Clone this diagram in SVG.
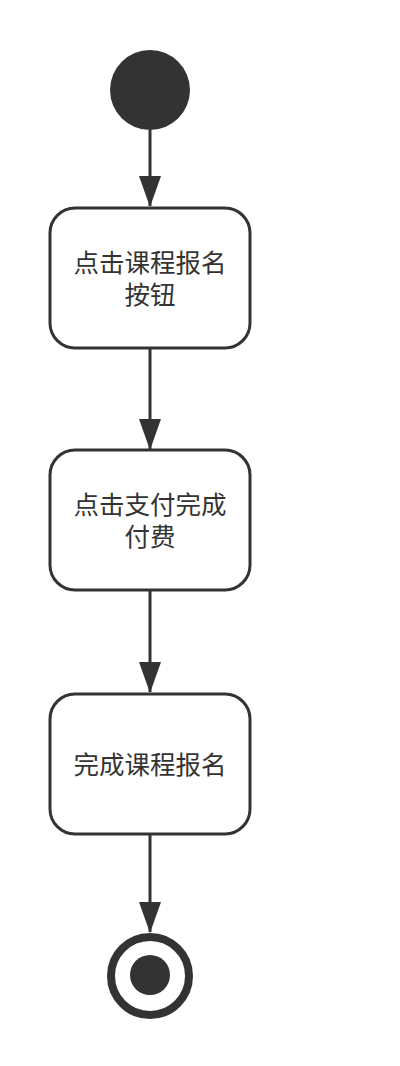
<svg xmlns="http://www.w3.org/2000/svg" width="400" height="1066" viewBox="0 0 400 1066">
<defs>
<style>
.node{fill:#fff;stroke:#333;stroke-width:3}
.lbl{font-family:"Noto Sans CJK SC","Noto Sans",sans-serif;font-size:25.5px;fill:#333;text-anchor:middle}
.edge{stroke:#333;stroke-width:3;fill:none}
.head{fill:#333}
</style>
</defs>
<rect width="400" height="1066" fill="#fff"/>
<g id="connectors">
<line class="edge" x1="150" y1="130" x2="150" y2="206"/>
<path class="head" d="M139,176 L161,176 L150,207 Z"/>
<line class="edge" x1="150" y1="348" x2="150" y2="449"/>
<path class="head" d="M139,419 L161,419 L150,450 Z"/>
<line class="edge" x1="150" y1="590" x2="150" y2="692"/>
<path class="head" d="M139,662 L161,662 L150,693 Z"/>
<line class="edge" x1="150" y1="834" x2="150" y2="932"/>
<path class="head" d="M139,902 L161,902 L150,933 Z"/>
</g>
<g id="start">
<circle cx="150" cy="90" r="40" fill="#333"/>
</g>
<g id="n1">
<rect class="node" x="50" y="208" width="200" height="140" rx="25" ry="25"/>
<text class="lbl" x="150" y="272">点击课程报名<tspan x="150" dy="32">按钮</tspan></text>
</g>
<g id="n2">
<rect class="node" x="50" y="450" width="200" height="140" rx="25" ry="25"/>
<text class="lbl" x="150" y="514">点击支付完成<tspan x="150" dy="32">付费</tspan></text>
</g>
<g id="n3">
<rect class="node" x="50" y="694" width="200" height="140" rx="25" ry="25"/>
<text class="lbl" x="150" y="774">完成课程报名</text>
</g>
<g id="end">
<circle cx="150" cy="976" r="39" fill="#fff" stroke="#333" stroke-width="8"/>
<circle cx="150" cy="975" r="20" fill="#333"/>
</g>
</svg>
